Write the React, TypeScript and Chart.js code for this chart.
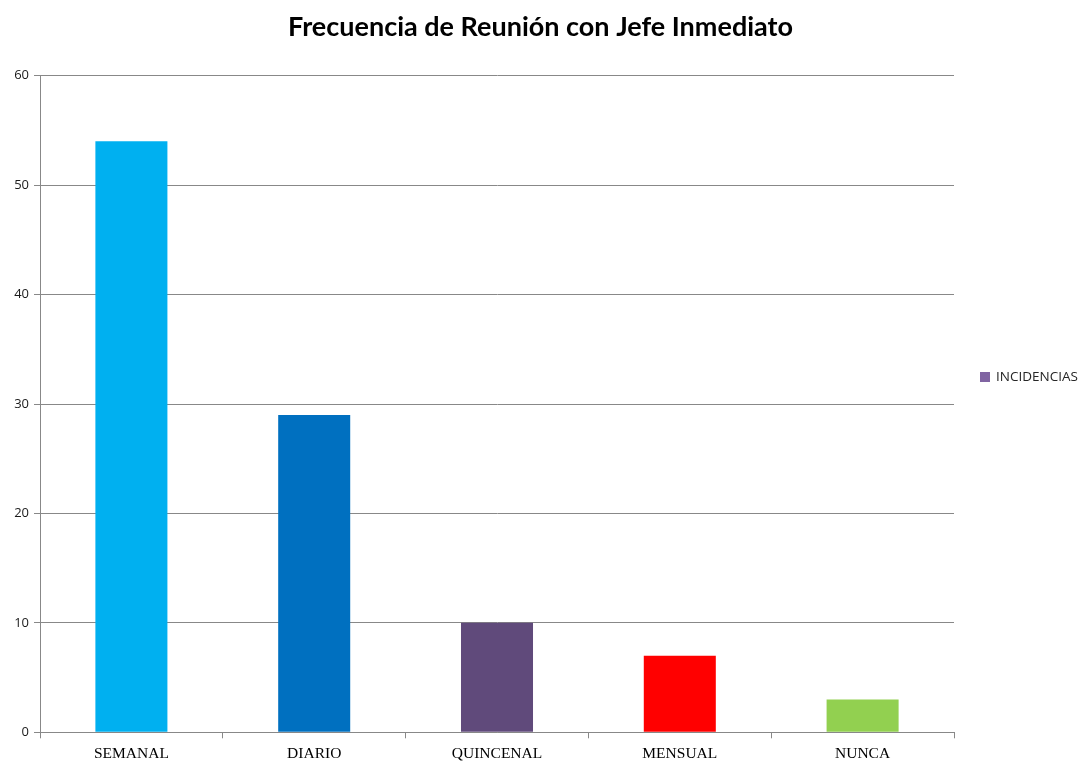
import React, { useEffect, useRef } from "react";
import { Chart, registerables } from "chart.js";

Chart.register(...registerables);

const titleText = "Frecuencia de Reunión con Jefe Inmediato";
const categories = ["SEMANAL", "DIARIO", "QUINCENAL", "MENSUAL", "NUNCA"];
const values = [54, 29, 10, 7, 3];
const barColors = ["#00B0F0", "#0070C0", "#604A7B", "#FF0000", "#92D050"];
const seriesName = "INCIDENCIAS";
const legendColor = "#8064A2";
const yMin = 0;
const yMax = 60;
const yStep = 10;

const decorPlugin = {
  id: "decor",
  afterDraw(chart: any) {
    const ctx = chart.ctx;
    ctx.save();
    // title centred on the whole canvas
    ctx.fillStyle = "#000000";
    ctx.font = "bold 27px Lato, sans-serif";
    ctx.textAlign = "center";
    ctx.textBaseline = "middle";
    ctx.fillText(titleText, chart.width / 2 + 0.5, 27);
    // legend
    ctx.fillStyle = legendColor;
    ctx.fillRect(980, 372, 10, 10);
    ctx.fillStyle = "#262626";
    ctx.font = "13.5px 'Open Sans', sans-serif";
    ctx.textAlign = "left";
    ctx.fillText(seriesName, 996, 377.5);
    ctx.restore();
  },
};

export default function App() {
  const ref = useRef<HTMLCanvasElement>(null);
  useEffect(() => {
    if (!ref.current) return;
    const chart = new Chart(ref.current, {
      type: "bar",
      data: {
        labels: categories,
        datasets: [
          {
            label: seriesName,
            data: values,
            backgroundColor: barColors,
            borderWidth: 0,
            categoryPercentage: 1,
            barPercentage: 0.394,
          },
        ],
      },
      plugins: [decorPlugin],
      options: {
        responsive: false,
        animation: false,
        layout: { padding: { left: 0, right: 126, top: 75.7, bottom: 0 } },
        plugins: {
          legend: { display: false },
          tooltip: { enabled: false },
          title: { display: false },
        },
        scales: {
          x: {
            offset: true,
            border: { display: true, color: "#888888", width: 1 },
            grid: {
              display: true,
              offset: true,
              drawOnChartArea: false,
              drawTicks: true,
              tickLength: 6,
              color: "#888888",
            },
            ticks: {
              color: "#000000",
              padding: 6,
              font: { family: "'Liberation Serif', serif", size: 15.5 },
            },
            afterFit: (s: any) => {
              s.height = 28.7;
            },
          },
          y: {
            min: yMin,
            max: yMax,
            border: { display: true, color: "#888888", width: 1 },
            grid: {
              color: "#888888",
              drawTicks: true,
              tickLength: 6,
            },
            ticks: {
              stepSize: yStep,
              color: "#1a1a1a",
              padding: 5,
              font: { family: "'Open Sans', sans-serif", size: 13 },
            },
            afterFit: (s: any) => {
              s.width = 40;
            },
          },
        },
      },
    });
    return () => chart.destroy();
  }, []);
  return (
    <div style={{ position: "absolute", left: 0, top: 0, width: 1080, height: 761, background: "#fff" }}>
      <canvas ref={ref} width={1080} height={761} />
    </div>
  );
}
